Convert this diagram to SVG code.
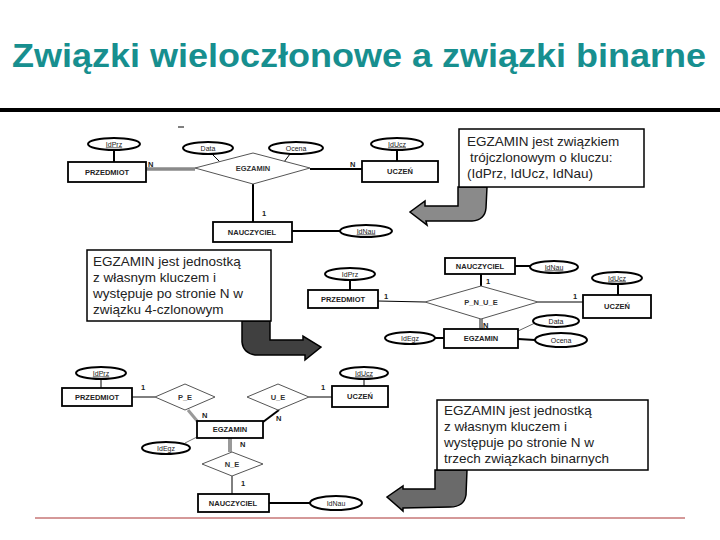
<svg xmlns="http://www.w3.org/2000/svg" width="720" height="540" viewBox="0 0 720 540">
<style>
.title{font-family:"Liberation Sans",Arial,sans-serif;font-weight:bold;font-size:34px;fill:#178f8f}
.ent rect{fill:#fff;stroke:#000;stroke-width:1.8}
.ent text{font-family:"Liberation Sans",Arial,sans-serif;font-weight:bold;font-size:7.5px;fill:#222;text-anchor:middle}
.att ellipse{fill:#fff;stroke:#000;stroke-width:2}
.att text{font-family:"Liberation Sans",Arial,sans-serif;font-size:7px;fill:#222;text-anchor:middle}
.rel polygon{fill:#fff;stroke:#555;stroke-width:1}
.rel text{font-family:"Liberation Sans",Arial,sans-serif;font-weight:bold;font-size:7.5px;fill:#333;text-anchor:middle}
.card{font-family:"Liberation Sans",Arial,sans-serif;font-weight:bold;font-size:7.5px;fill:#222}
.call rect{fill:#fff;stroke:#000;stroke-width:1.5}
.call text{font-family:"Liberation Sans",Arial,sans-serif;font-size:13.5px;fill:#222}
.thin{stroke:#000;stroke-width:1;fill:none}
.bold{stroke:#000;stroke-width:2;fill:none}
.gray{stroke:#8a8a8a;stroke-width:3.5;fill:none}
.arrow{stroke:#000;stroke-width:1.5}
</style>

<text class="title" x="12" y="67" textLength="694" lengthAdjust="spacingAndGlyphs">Związki wieloczłonowe a związki binarne</text>
<rect x="0" y="108" width="720" height="4" fill="#000"/>
<line x1="35" y1="518" x2="685" y2="518" stroke="#a33" stroke-width="1"/>

<g id="connectors">
  <!-- section 1 -->
  <line class="thin" x1="178" y1="127" x2="184" y2="127"/>
  <line class="bold" x1="114" y1="150" x2="114" y2="162"/>
  <line class="thin" x1="212" y1="154" x2="220" y2="162"/>
  <line class="thin" x1="290" y1="154" x2="284" y2="162"/>
  <line class="gray" x1="146" y1="169" x2="195" y2="169"/>
  <line class="bold" x1="310" y1="169" x2="362" y2="169"/>
  <line class="bold" x1="397" y1="150" x2="397" y2="161"/>
  <line class="bold" x1="253" y1="184" x2="253" y2="222"/>
  <line class="bold" x1="292" y1="231" x2="340" y2="231"/>
  <!-- section 2 -->
  <line class="bold" x1="515" y1="266" x2="530" y2="266"/>
  <line class="bold" x1="350" y1="280" x2="350" y2="290"/>
  <line class="thin" x1="378" y1="301" x2="425" y2="302"/>
  <line class="bold" x1="481" y1="274" x2="481" y2="286"/>
  <line class="thin" x1="538" y1="302" x2="583" y2="302"/>
  <line class="bold" x1="618" y1="284" x2="618" y2="295"/>
  <line class="gray" x1="481" y1="319" x2="481" y2="329" style="stroke-width:4"/>
  <line class="bold" x1="435" y1="338" x2="444" y2="338"/>
  <line class="thin" x1="518" y1="331" x2="535" y2="323" style="stroke:#666"/>
  <line class="bold" x1="518" y1="339" x2="535" y2="340"/>
  <!-- section 3 -->
  <line class="thin" x1="101" y1="379" x2="101" y2="388"/>
  <line class="thin" x1="132" y1="397" x2="155" y2="397"/>
  <line class="gray" x1="188" y1="410" x2="198" y2="422" style="stroke:#999;stroke-width:3"/>
  <line class="thin" x1="309" y1="397" x2="332" y2="397"/>
  <line class="thin" x1="364" y1="379" x2="364" y2="386"/>
  <line class="bold" x1="279" y1="410" x2="263" y2="422"/>
  <line class="thin" x1="197" y1="437" x2="185" y2="443" style="stroke:#777"/>
  <line class="gray" x1="230" y1="438" x2="230" y2="452" style="stroke:#999;stroke-width:4"/>
  <line class="thin" x1="232" y1="476" x2="232" y2="494"/>
  <line class="bold" x1="269" y1="503" x2="310" y2="503"/>
</g>

<g id="cards">
  <text class="card" x="148" y="167">N</text>
  <text class="card" x="350" y="167">N</text>
  <text class="card" x="262" y="216">1</text>
  <text class="card" x="384" y="299">1</text>
  <text class="card" x="486" y="284">1</text>
  <text class="card" x="573" y="299">1</text>
  <text class="card" x="483" y="328">N</text>
  <text class="card" x="141" y="390">1</text>
  <text class="card" x="202" y="418">N</text>
  <text class="card" x="321" y="390">1</text>
  <text class="card" x="276" y="421">N</text>
  <text class="card" x="240" y="447">N</text>
  <text class="card" x="241" y="486">1</text>
</g>

<!-- section 1 nodes -->
<g id="s1-idprz" class="att"><ellipse cx="114" cy="144" rx="26" ry="6"/><text x="114" y="146.5" text-decoration="underline">IdPrz</text></g>
<g id="s1-przedmiot" class="ent"><rect x="68" y="162" width="78" height="20"/><text x="107" y="175">PRZEDMIOT</text></g>
<g id="s1-data" class="att"><ellipse cx="208" cy="148" rx="25" ry="6"/><text x="208" y="150.5">Data</text></g>
<g id="s1-ocena" class="att"><ellipse cx="296" cy="148" rx="27" ry="6"/><text x="296" y="150.5">Ocena</text></g>
<g id="s1-egzamin" class="rel"><polygon points="195,168 253,153 310,168 253,184"/><text x="253" y="171">EGZAMIN</text></g>
<g id="s1-uczen" class="ent"><rect x="362" y="161" width="76" height="21"/><text x="400" y="174">UCZEŃ</text></g>
<g id="s1-iducz" class="att"><ellipse cx="397" cy="144" rx="26" ry="6"/><text x="397" y="146.5" text-decoration="underline">IdUcz</text></g>
<g id="s1-nauczyciel" class="ent"><rect x="213" y="222" width="79" height="20"/><text x="252" y="235">NAUCZYCIEL</text></g>
<g id="s1-idnau" class="att"><ellipse cx="366" cy="231" rx="26" ry="6"/><text x="366" y="233.5" text-decoration="underline">IdNau</text></g>

<!-- section 2 nodes -->
<g id="s2-nauczyciel" class="ent"><rect x="445" y="258" width="70" height="16"/><text x="480" y="269">NAUCZYCIEL</text></g>
<g id="s2-idnau" class="att"><ellipse cx="554" cy="267" rx="24" ry="6"/><text x="554" y="269.5" text-decoration="underline">IdNau</text></g>
<g id="s2-idprz" class="att"><ellipse cx="350" cy="274" rx="25" ry="6"/><text x="350" y="276.5">IdPrz</text></g>
<g id="s2-przedmiot" class="ent"><rect x="308" y="290" width="70" height="18"/><text x="343" y="302">PRZEDMIOT</text></g>
<g id="s2-pnue" class="rel"><polygon points="425,302 481,286 538,302 481,319"/><text x="481" y="305">P_N_U_E</text></g>
<g id="s2-uczen" class="ent"><rect x="583" y="295" width="68" height="23"/><text x="617" y="309">UCZEŃ</text></g>
<g id="s2-iducz" class="att"><ellipse cx="617" cy="278" rx="25" ry="6"/><text x="617" y="280.5" text-decoration="underline">IdUcz</text></g>
<g id="s2-egzamin" class="ent"><rect x="444" y="329" width="74" height="19"/><text x="481" y="341">EGZAMIN</text></g>
<g id="s2-idegz" class="att"><ellipse cx="410" cy="338" rx="25" ry="6"/><text x="410" y="340.5">IdEgz</text></g>
<g id="s2-data" class="att"><ellipse cx="556" cy="321" rx="23" ry="6"/><text x="556" y="323.5">Data</text></g>
<g id="s2-ocena" class="att"><ellipse cx="561" cy="340" rx="26" ry="7"/><text x="561" y="342.5">Ocena</text></g>

<!-- section 3 nodes -->
<g id="s3-idprz" class="att"><ellipse cx="101" cy="373" rx="25" ry="6"/><text x="101" y="375.5" text-decoration="underline">IdPrz</text></g>
<g id="s3-przedmiot" class="ent"><rect x="62" y="388" width="70" height="18"/><text x="97" y="400">PRZEDMIOT</text></g>
<g id="s3-pe" class="rel"><polygon points="155,397 185,384 215,397 185,410"/><text x="185" y="400">P_E</text></g>
<g id="s3-ue" class="rel"><polygon points="247,397 278,384 309,397 278,410"/><text x="278" y="400">U_E</text></g>
<g id="s3-uczen" class="ent"><rect x="332" y="386" width="56" height="21"/><text x="360" y="399">UCZEŃ</text></g>
<g id="s3-iducz" class="att"><ellipse cx="364" cy="373" rx="24" ry="6"/><text x="364" y="375.5" text-decoration="underline">IdUcz</text></g>
<g id="s3-egzamin" class="ent"><rect x="197" y="421" width="66" height="17"/><text x="230" y="432">EGZAMIN</text></g>
<g id="s3-idegz" class="att"><ellipse cx="166" cy="448" rx="24" ry="6"/><text x="166" y="450.5">IdEgz</text></g>
<g id="s3-ne" class="rel"><polygon points="202,464 232,452 263,464 232,476"/><text x="232" y="467">N_E</text></g>
<g id="s3-nauczyciel" class="ent"><rect x="198" y="494" width="71" height="18"/><text x="233" y="506">NAUCZYCIEL</text></g>
<g id="s3-idnau" class="att"><ellipse cx="336" cy="503" rx="26" ry="7"/><text x="336" y="505.5">IdNau</text></g>

<!-- callouts -->
<g id="arrow1"><path class="arrow" fill="#8a8a8a" d="M458,187 L487,187 L486,208 Q485,220 472,221 L426,221 L427,225 L410,212 L425,201 L425,206 L458,206 Z"/></g>
<g id="callout1" class="call">
  <rect x="459" y="129" width="185" height="58"/>
  <text x="467" y="146">EGZAMIN jest związkiem</text>
  <text x="470" y="162">trójczlonowym o kluczu:</text>
  <text x="467" y="178">(IdPrz, IdUcz, IdNau)</text>
</g>
<g id="arrow2"><path class="arrow" fill="#404040" d="M242,321 L270,321 L270,340 L303,340 L303,336 L321,347 L305,360 L305,355 L255,355 Q243,353 242,342 Z"/></g>
<g id="callout2" class="call">
  <rect x="87" y="250" width="184" height="71"/>
  <text x="93" y="266">EGZAMIN jest jednostką</text>
  <text x="93" y="282">z własnym kluczem i</text>
  <text x="93" y="298">występuje po stronie N w</text>
  <text x="93" y="314">związku 4-czlonowym</text>
</g>
<g id="arrow3"><path class="arrow" fill="#6a6a6a" d="M435,470 L467,470 L466,495 Q464,507 450,507 L403,508 L403,511 L387,497 L403,486 L403,489 L435,489 Z"/></g>
<g id="callout3" class="call">
  <rect x="437" y="400" width="211" height="70"/>
  <text x="444" y="415">EGZAMIN jest jednostką</text>
  <text x="444" y="431">z własnym kluczem i</text>
  <text x="444" y="447">występuje po stronie N w</text>
  <text x="444" y="463">trzech związkach binarnych</text>
</g>
</svg>
